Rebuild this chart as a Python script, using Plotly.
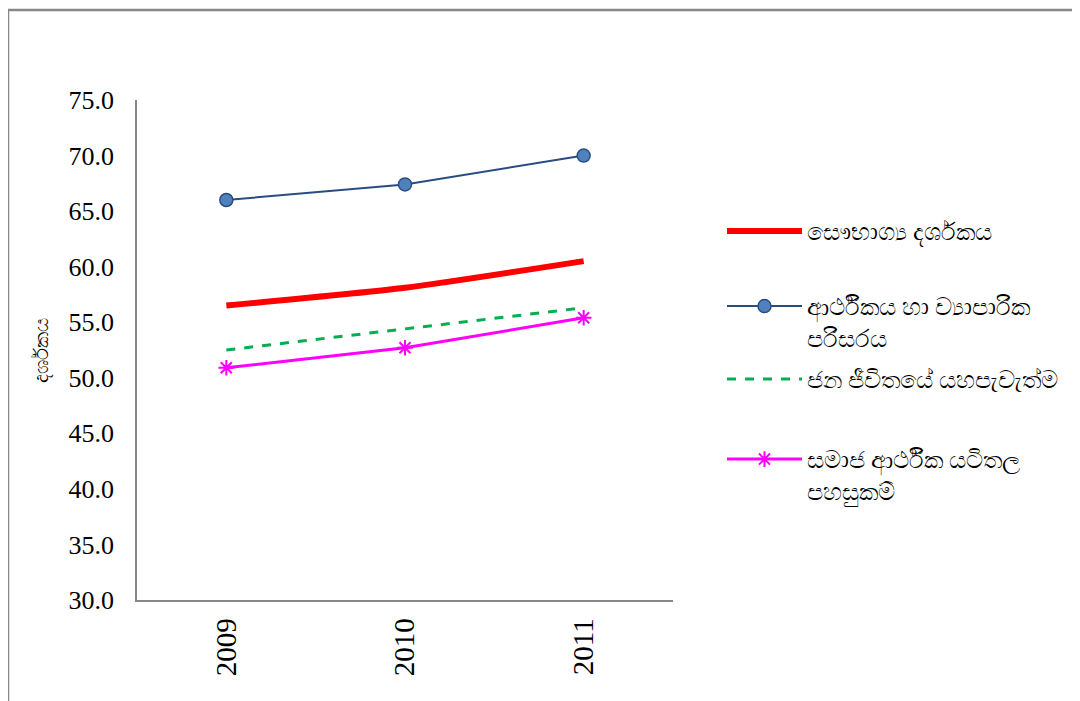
import plotly.graph_objects as go

years = ["2009", "2010", "2011"]
prosperity = [56.5, 58.1, 60.5]
economy = [66.0, 67.4, 70.0]
wellbeing = [52.5, 54.4, 56.3]
infrastructure = [50.9, 52.7, 55.4]

names = [
    "සෞභාග්‍ය දර්ශකය",
    "ආර්ථිකය හා ව්‍යාපාරික<br>පරිසරය",
    "ජන ජීවිතයේ යහපැවැත්ම",
    "සමාජ ආර්ථික යටිතල<br>පහසුකම්",
]
y_title = "දර්ශකය"
y_ticks = [30, 35, 40, 45, 50, 55, 60, 65, 70, 75]

fig = go.Figure()
fig.add_trace(go.Scatter(x=years, y=prosperity, name=names[0], mode="lines",
                         line=dict(color="#FF0000", width=6, shape="spline", smoothing=0.6),
                         legend="legend"))
fig.add_trace(go.Scatter(x=years, y=economy, name=names[1], mode="lines+markers",
                         line=dict(color="#2A4D80", width=2),
                         marker=dict(symbol="circle", size=13, color="#4F81BD",
                                     line=dict(color="#2A4D80", width=1.5)),
                         legend="legend2"))
fig.add_trace(go.Scatter(x=years, y=wellbeing, name=names[2], mode="lines",
                         line=dict(color="#00B050", width=3, dash="dash"),
                         legend="legend3"))
fig.add_trace(go.Scatter(x=years, y=infrastructure, name=names[3], mode="lines+markers",
                         line=dict(color="#FF00FF", width=3),
                         marker=dict(symbol="asterisk-open", size=13,
                                     line=dict(color="#FF00FF", width=2)),
                         legend="legend4"))

OFF = 8  # page body margin
FW, FH = 1080 - OFF, 701 - OFF
L, T = 137 - OFF, 100 - OFF
W, H = 536, 500
R, B = FW - L - W, FH - T - H

def px(x):
    return (x - OFF - L) / W

def py(y):
    return (T + H - (y - OFF)) / H

def leg(top):
    return dict(x=px(722), y=py(top), xanchor="left", yanchor="top",
                font=dict(family="Noto Sans, DejaVu Sans, sans-serif", size=24, color="#000"),
                itemwidth=75, valign="top", bgcolor="rgba(0,0,0,0)")

fig.update_layout(
    width=FW, height=FH,
    margin=dict(l=L, r=R, t=T, b=B),
    paper_bgcolor="white", plot_bgcolor="white",
    showlegend=True,
    legend=leg(209),
    legend2=leg(284),
    legend3=leg(357),
    legend4=leg(437),
    xaxis=dict(type="category", range=[-0.5, 2.5], showgrid=False,
               showline=True, linecolor="#888888", linewidth=1.5,
               ticks="", tickangle=-90, ticklabelstandoff=5,
               tickfont=dict(family="Liberation Serif, Times New Roman, serif", size=29, color="#000")),
    yaxis=dict(range=[30, 75], tickvals=y_ticks, tickformat=".1f", showgrid=False,
               showline=True, linecolor="#888888", linewidth=1.5, ticks="",
               zeroline=False, ticklabelstandoff=16,
               tickfont=dict(family="Liberation Serif, Times New Roman, serif", size=26, color="#000"),
               title=dict(text=y_title, standoff=15,
                          font=dict(family="Noto Sans, DejaVu Sans, sans-serif", size=20, color="#000"))),
    shapes=[
        dict(type="line", xref="paper", yref="paper", x0=px(7), x1=px(1090), y0=py(10), y1=py(10),
             line=dict(color="#888888", width=2.5)),
        dict(type="line", xref="paper", yref="paper", x0=px(8), x1=px(8), y0=py(10), y1=py(710),
             line=dict(color="#888888", width=2.5)),
    ],
)

fig.write_html("out.html")
